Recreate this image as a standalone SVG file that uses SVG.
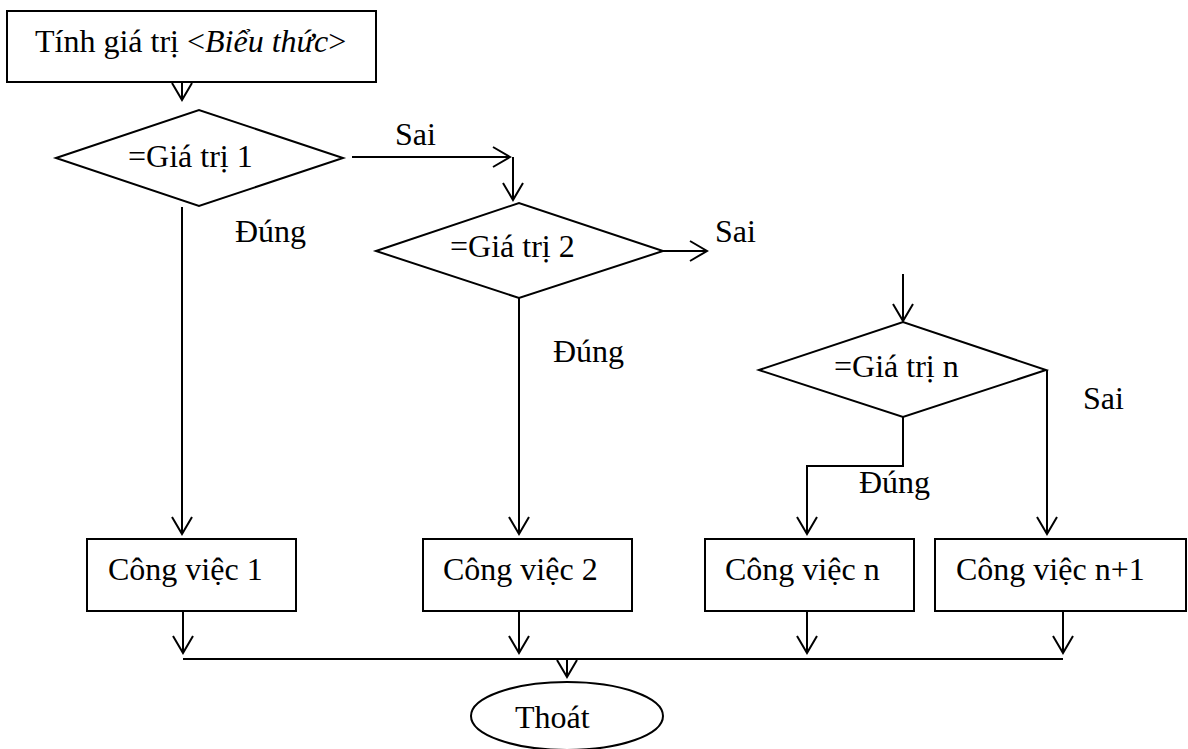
<svg xmlns="http://www.w3.org/2000/svg" width="1188" height="749" viewBox="0 0 1188 749">
  <style>
    .shape { fill: #fff; stroke: #000; stroke-width: 2; }
    .line { fill: none; stroke: #000; stroke-width: 2; }
    .arrow { fill: none; stroke: #000; stroke-width: 2; marker-end: url(#vhead); }
    text { font-family: "Liberation Serif", "Times New Roman", serif; font-size: 32px; fill: #000; }
    .it { font-style: italic; }
  </style>
  <defs>
    <marker id="vhead" viewBox="-19 -12 21 24" refX="0" refY="0" markerWidth="21" markerHeight="24" markerUnits="userSpaceOnUse" orient="auto">
      <path d="M-17,-10 L0,0 L-17,10" fill="none" stroke="#000" stroke-width="2"/>
    </marker>
  </defs>

  <!-- connectors -->
  <g id="connectors">
    <line class="arrow" x1="182" y1="82" x2="182" y2="100"/>
    <line class="line" x1="182" y1="207" x2="182" y2="520"/>
    <line class="arrow" x1="182" y1="520" x2="182" y2="534"/>
    <line class="arrow" x1="352" y1="157" x2="510" y2="157"/>
    <line class="arrow" x1="513" y1="157" x2="513" y2="200"/>
    <line class="line" x1="519" y1="298" x2="519" y2="520"/>
    <line class="arrow" x1="519" y1="520" x2="519" y2="534"/>
    <line class="arrow" x1="663" y1="251" x2="707" y2="251"/>
    <line class="arrow" x1="903" y1="274" x2="903" y2="321"/>
    <polyline class="line" points="903,417 903,466 807,466 807,520"/>
    <line class="arrow" x1="807" y1="520" x2="807" y2="534"/>
    <line class="line" x1="1047" y1="370" x2="1047" y2="520"/>
    <line class="arrow" x1="1047" y1="520" x2="1047" y2="534"/>
    <line class="arrow" x1="183" y1="611" x2="183" y2="653"/>
    <line class="arrow" x1="519" y1="611" x2="519" y2="653"/>
    <line class="arrow" x1="807" y1="611" x2="807" y2="653"/>
    <line class="arrow" x1="1063" y1="611" x2="1063" y2="653"/>
    <line class="line" x1="183" y1="659" x2="1063" y2="659"/>
    <line class="arrow" x1="567" y1="659" x2="567" y2="677"/>
    <text x="395" y="145">Sai</text>
    <text x="715" y="242">Sai</text>
    <text x="1083" y="409">Sai</text>
    <text x="235" y="242">Đúng</text>
    <text x="553" y="362">Đúng</text>
    <text x="859" y="493">Đúng</text>
  </g>

  <g id="start">
    <rect class="shape" x="7" y="11" width="369" height="71"/>
    <text x="35" y="52">Tính giá trị &lt;<tspan class="it">Biểu thức</tspan>&gt;</text>
  </g>

  <g id="cond1">
    <polygon class="shape" points="56,158 199,110 343,158 199,206"/>
    <text x="128" y="167">=Giá trị 1</text>
  </g>

  <g id="cond2">
    <polygon class="shape" points="376,251 519,203 663,251 519,298"/>
    <text x="450" y="257">=Giá trị 2</text>
  </g>

  <g id="condn">
    <polygon class="shape" points="759,370 903,322 1046,370 903,417"/>
    <text x="834" y="377">=Giá trị n</text>
  </g>

  <g id="task1">
    <rect class="shape" x="87" y="539" width="209" height="72"/>
    <text x="108" y="580">Công việc 1</text>
  </g>

  <g id="task2">
    <rect class="shape" x="423" y="539" width="209" height="72"/>
    <text x="443" y="580">Công việc 2</text>
  </g>

  <g id="taskn">
    <rect class="shape" x="705" y="539" width="209" height="72"/>
    <text x="725" y="580">Công việc n</text>
  </g>

  <g id="taskn1">
    <rect class="shape" x="935" y="539" width="251" height="72"/>
    <text x="956" y="580">Công việc n+1</text>
  </g>

  <g id="exit">
    <ellipse class="shape" cx="567" cy="716" rx="96" ry="34"/>
    <text x="515" y="728">Thoát</text>
  </g>
</svg>
